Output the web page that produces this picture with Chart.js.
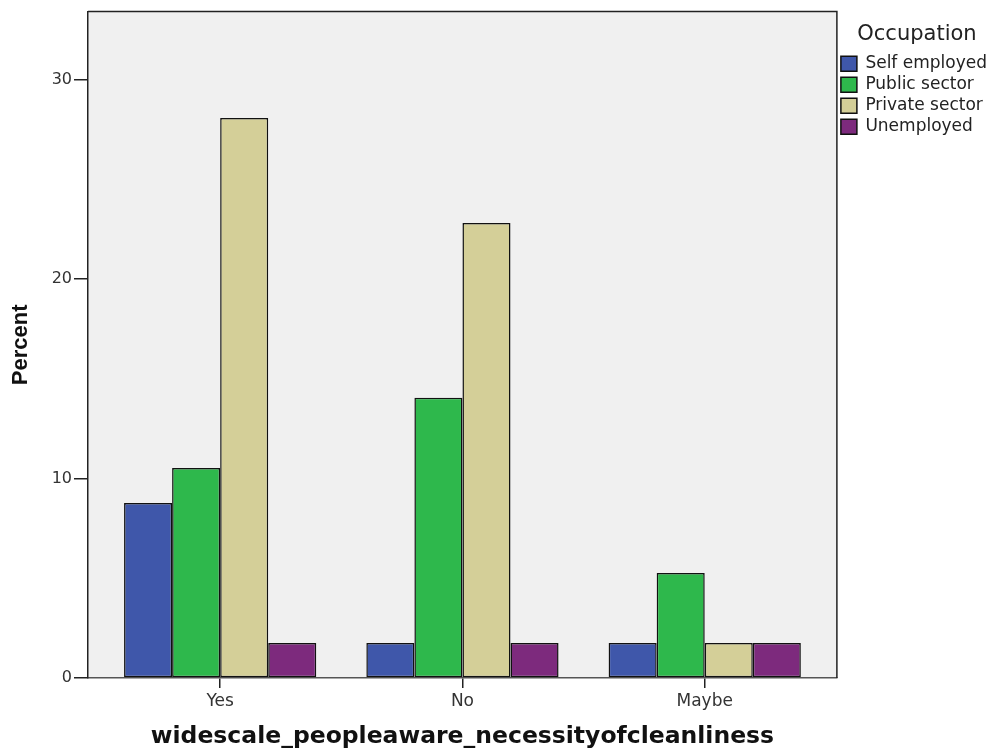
<!DOCTYPE html>
<html>
<head>
<meta charset="utf-8">
<script src="https://cdn.jsdelivr.net/npm/chart.js@4.4.1/dist/chart.umd.min.js"></script>
<style>
html,body{margin:0;padding:0;background:#fff;}
#wrap{width:991px;height:752px;position:relative;}
</style>
</head>
<body>
<div id="wrap"><canvas id="c" width="991" height="752"></canvas></div>
<script>
const categories = ["Yes", "No", "Maybe"];
const seriesNames = ["Self employed", "Public sector", "Private sector", "Unemployed"];
const selfEmployed = [8.77, 1.75, 1.75];
const publicSector = [10.53, 14.04, 5.26];
const privateSector = [28.07, 22.81, 1.75];
const unemployed = [1.75, 1.75, 1.75];
const yTicks = [0, 10, 20, 30];
const colors = ["#3F57AA", "#2EB84C", "#D4CF98", "#7D2A7D"];

const FONT = "'DejaVu Sans', 'Liberation Sans', Arial, sans-serif";

const seriesValues = [selfEmployed, publicSector, privateSector, unemployed];
const datasets = seriesNames.map((name, i) => ({
  label: name,
  data: seriesValues[i].map((v, j) => ({x: j, y: v})),
  backgroundColor: colors[i],
  borderColor: "#111",
  borderWidth: 1.5,
  borderSkipped: false,
  barPercentage: 1.0,
  categoryPercentage: 0.7934
}));

const framePlugin = {
  id: "frame",
  beforeDraw(chart) {
    const {ctx, chartArea: a} = chart;
    ctx.save();
    ctx.fillStyle = "#F0F0F0";
    ctx.fillRect(a.left, a.top, a.right - a.left, a.bottom - a.top);
    ctx.restore();
  },
  afterDraw(chart) {
    const {ctx, chartArea: a} = chart;
    ctx.save();
    ctx.strokeStyle = "#222";
    ctx.lineWidth = 1.5;
    ctx.beginPath();
    ctx.moveTo(a.left, a.top);
    ctx.lineTo(a.right, a.top);
    ctx.lineTo(a.right, a.bottom);
    ctx.stroke();
    ctx.restore();
  }
};

new Chart(document.getElementById("c"), {
  type: "bar",
  data: { datasets },
  options: {
    responsive: false,
    animation: false,
    layout: { padding: { top: 11, right: -6, left: 0, bottom: 0 } },
    plugins: {
      legend: {
        position: "right",
        align: "start",
        title: { display: true, text: "Occupation", color: "#222",
          font: { family: FONT, size: 21 }, padding: { top: 13, bottom: 2 } },
        labels: {
          color: "#222",
          boxWidth: 16, boxHeight: 15, padding: 4,
          font: { family: FONT, size: 17 }
        }
      },
      tooltip: { enabled: false }
    },
    scales: {
      x: {
        type: "linear",
        min: -0.5455, max: 2.5455,
        offset: false,
        afterBuildTicks(s) { s.ticks = categories.map((c, i) => ({value: i})); },
        afterFit(s) { s.height = 74; },
        ticks: {
          callback: (v) => categories[v],
          color: "#333",
          font: { family: FONT, size: 17 },
          padding: 3
        },
        grid: { display: true, offset: false, drawOnChartArea: false, tickLength: 10, color: "#222", lineWidth: 1.5 },
        border: { display: true, color: "#555", width: 1.5 },
        title: { display: true, text: "widescale_peopleaware_necessityofcleanliness",
          color: "#111", font: { family: FONT, size: 23.5, weight: "bold" },
          padding: { top: 4, bottom: 1 } }
      },
      y: {
        min: 0, max: 33.4,
        afterBuildTicks(s) { s.ticks = yTicks.map(v => ({value: v})); },
        afterFit(s) { s.width = 88; },
        ticks: {
          color: "#333",
          font: { family: FONT, size: 16 },
          padding: 2
        },
        grid: { display: true, drawOnChartArea: false, tickLength: 14, color: "#222", lineWidth: 1.5 },
        border: { display: true, color: "#222", width: 1.5 },
        title: { display: true, text: "Percent", color: "#111",
          font: { family: "'Liberation Sans Narrow', 'Liberation Sans', Arial, sans-serif", size: 22, weight: "bold" },
          padding: { top: 8, bottom: 0 } }
      }
    }
  },
  plugins: [framePlugin]
});
</script>
</body>
</html>
